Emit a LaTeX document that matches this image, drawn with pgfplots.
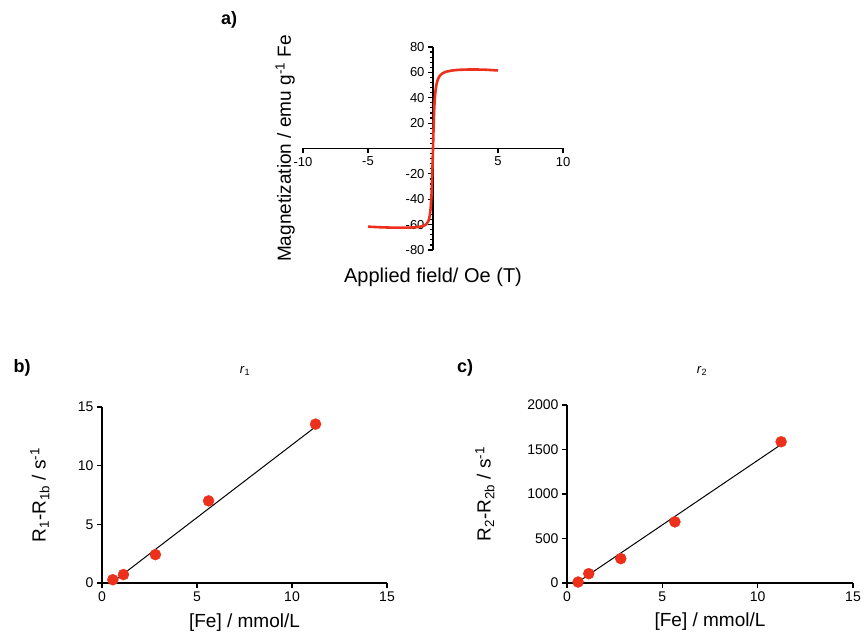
\documentclass[border=0pt]{standalone}
\usepackage{pgfplots}
\pgfplotsset{compat=1.18}
\usepackage{fontspec}
\setmainfont{Liberation Sans}
\definecolor{ptred}{RGB}{236,48,28}

\pgfplotsset{
  panel/.style={
    scale only axis, anchor=south west,
    axis lines=left, axis line style={-, line width=1.8pt},
    tick align=outside, tick style={black, line width=1.6pt},
    major tick length=5pt,
    ticklabel style={font=\fontsize{14}{16}\selectfont},
    xmin=0, xmax=15, xtick={0,5,10,15},
    xticklabels={0,5,10,15},
  },
}

\begin{document}
\begin{tikzpicture}[x=1pt,y=1pt]
\useasboundingbox (0,0) rectangle (866,640);

% a) magnetization curve
\node[font=\fontsize{18}{20}\selectfont\bfseries] at (229,620) {a)};
\begin{axis}[
    at={(303pt,390pt)}, anchor=south west, scale only axis,
    width=260pt, height=203pt,
    xmin=-10, xmax=10, ymin=-80, ymax=80,
    axis lines=middle, axis line style={-, line width=1.3pt},
    tick align=outside, tick style={black, line width=1.2pt},
    major tick length=5pt, minor tick length=3.5pt,
    xtick={-10,-5,5,10}, xticklabels={-10,-5,5,10},
    ytick={-80,-60,-40,-20,20,40,60,80},
    yticklabels={-80,-60,-40,-20,20,40,60,80},
    minor ytick={-76,-72,...,76},
    ticklabel style={font=\fontsize{13}{15}\selectfont},
    every axis x label/.style={at={(axis description cs:0.5,0)}, anchor=north, yshift=-14pt,
      font=\fontsize{20}{23}\selectfont},
    every axis y label/.style={at={(axis description cs:-0.069,0.5)}, rotate=90, anchor=center,
      font=\fontsize{19}{22}\selectfont},
    xlabel={Applied field/ Oe (T)},
    ylabel={Magnetization / emu g\textsuperscript{-1} Fe},
  ]
  \addplot[ptred, line width=2.6pt, smooth, tension=0.3] coordinates {
    (-5.0,-61.6) (-4.0,-62.1) (-3.0,-62.4) (-2.0,-62.4) (-1.5,-62.2)
    (-1.0,-61.7) (-0.7,-60.8) (-0.5,-59.5) (-0.35,-57.0) (-0.25,-53.0)
    (-0.18,-47.0) (-0.12,-38.0) (-0.08,-28.0) (-0.04,-15.0) (0,0)
    (0.04,15.0) (0.08,28.0) (0.13,38.0) (0.2,46.0) (0.28,51.0)
    (0.38,54.5) (0.5,57.0) (0.7,59.0) (1.0,60.5) (1.5,61.5)
    (2.0,62.0) (3.0,62.3) (4.0,62.1) (5.0,61.5)
  };
\end{axis}

% b) r1
\node[font=\fontsize{18}{20}\selectfont\bfseries] at (22,272) {b)};
\node[font=\fontsize{13}{15}\selectfont] at (245,269) {\textit{r}\textsubscript{1}};
\begin{axis}[panel,
    at={(102pt,57pt)}, width=285pt, height=176pt,
    ymin=0, ymax=15, ytick={0,5,10,15}, yticklabels={0,5,10,15},
    every axis x label/.style={at={(axis description cs:0.5,-0.227)}, anchor=center,
      font=\fontsize{19}{22}\selectfont},
    every axis y label/.style={at={(axis description cs:-0.218,0.5)}, rotate=90, anchor=center,
      font=\fontsize{19}{22}\selectfont},
    xlabel={[Fe] / mmol/L},
    ylabel={R\textsubscript{1}-R\textsubscript{1b} / s\textsuperscript{-1}},
  ]
  \addplot[black, line width=1pt] coordinates {(0.55,0.06) (11.25,13.33)};
  \addplot[only marks, mark=*, mark size=5.5pt, ptred, mark options={draw=ptred, fill=ptred}] coordinates {
    (0.57,0.28) (1.13,0.72) (2.81,2.42) (5.61,7.0) (11.24,13.54)
  };
\end{axis}

% c) r2
\node[font=\fontsize{18}{20}\selectfont\bfseries] at (465,272) {c)};
\node[font=\fontsize{13}{15}\selectfont] at (702,269) {\textit{r}\textsubscript{2}};
\begin{axis}[panel,
    at={(567pt,57pt)}, width=286pt, height=178pt,
    ymin=0, ymax=2000, ytick={0,500,1000,1500,2000},
    yticklabels={0,500,1000,1500,2000},
    every axis x label/.style={at={(axis description cs:0.5,-0.219)}, anchor=center,
      font=\fontsize{19}{22}\selectfont},
    every axis y label/.style={at={(axis description cs:-0.287,0.5)}, rotate=90, anchor=center,
      font=\fontsize{19}{22}\selectfont},
    xlabel={[Fe] / mmol/L},
    ylabel={R\textsubscript{2}-R\textsubscript{2b} / s\textsuperscript{-1}},
  ]
  \addplot[black, line width=1pt] coordinates {(0.52,3) (11.2,1552)};
  \addplot[only marks, mark=*, mark size=5.5pt, ptred, mark options={draw=ptred, fill=ptred}] coordinates {
    (0.58,11) (1.14,105) (2.82,274) (5.66,687) (11.23,1587)
  };
\end{axis}
\end{tikzpicture}
\end{document}
